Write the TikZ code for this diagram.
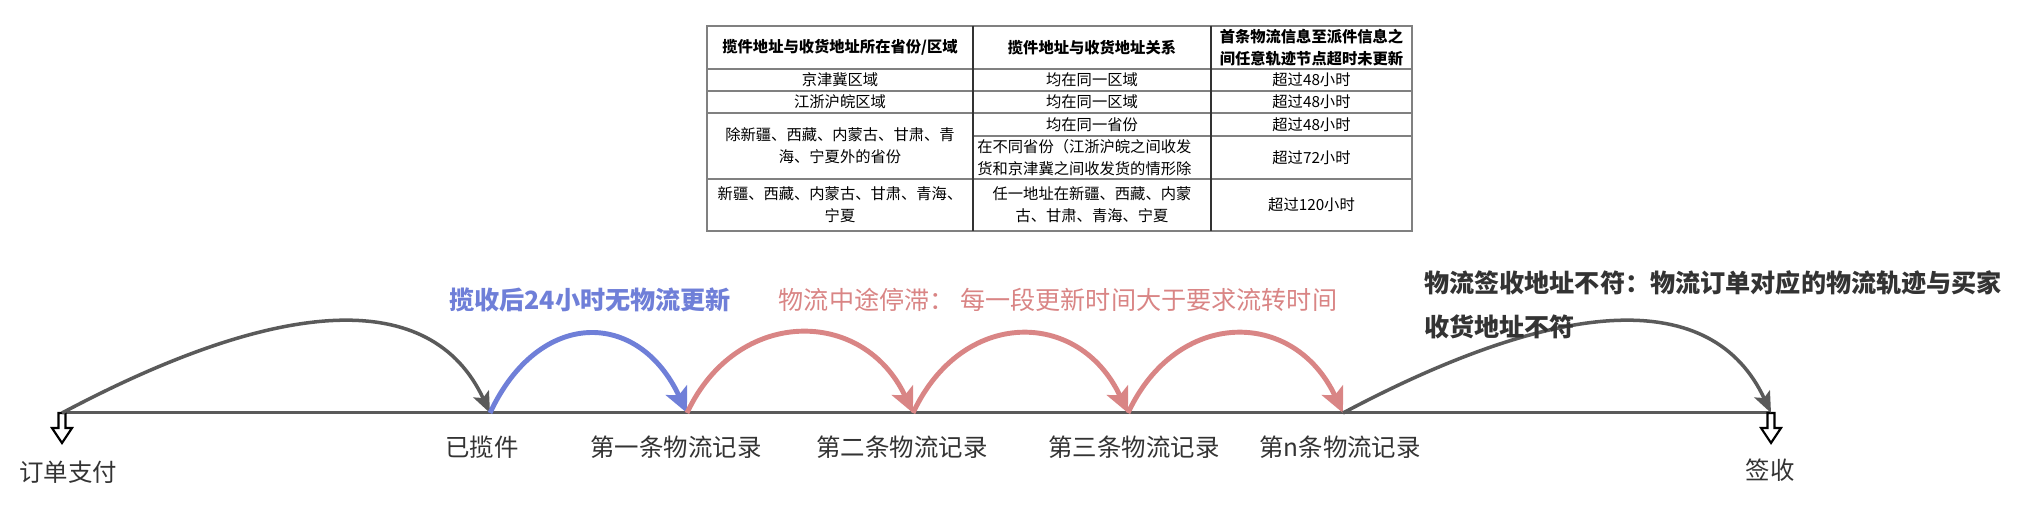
\documentclass[tikz,border=0pt]{standalone}
\usepackage{fontspec}
\setmainfont{Noto Sans CJK SC}
\usetikzlibrary{arrows.meta}
\definecolor{linegray}{HTML}{5A5A5A}
\definecolor{arcblue}{HTML}{6F7FD8}
\definecolor{arcred}{HTML}{D98585}
\definecolor{textdark}{HTML}{333333}
\tikzset{
	timeline/.style = {line width=1.7pt, draw=linegray},
	jump/.style = {line width=2pt, draw=linegray, -{Stealth[length=0.42cm,width=0.34cm,inset=0.09cm]}},
	bluejump/.style = {line width=2.8pt, draw=arcblue, -{Stealth[length=0.5cm,width=0.46cm,inset=0.11cm]}},
	redjump/.style = {bluejump, draw=arcred},
	hollow/.style = {line width=1.2pt, draw=black, fill=white},
	milestone/.style = {font=\fontsize{13.9pt}{16pt}\selectfont, text=textdark},
	note/.style = {font=\fontsize{14.3pt}{25pt}\selectfont\bfseries, align=left},
	rule/.style = {line width=0.7pt, draw=black!50},
	cell/.style = {font=\fontsize{8.7pt}{12.5pt}\selectfont, align=center, inner sep=0pt},
	headcell/.style = {cell, font=\fontsize{8.7pt}{12.5pt}\selectfont\bfseries}
}
\begin{document}
\begin{tikzpicture}[x=0.02cm, y=0.02cm]
	\useasboundingbox (0,0) rectangle (2022,516);

	\draw[rule] (707,490) rectangle (1412,285);
	\draw[rule] (707,447) -- (1412,447);
	\draw[rule] (707,425) -- (1412,425);
	\draw[rule] (707,403) -- (1412,403);
	\draw[rule] (973,380) -- (1412,380);
	\draw[rule] (707,337) -- (1412,337);
	\draw[rule, draw=black!80] (973,490) -- (973,285);
	\draw[rule, draw=black!80] (1211,490) -- (1211,285);

	\node[headcell] (h1) at (840,468.5) {揽件地址与收货地址所在省份/区域};
	\node[headcell] (h2) at (1092,468.5) {揽件地址与收货地址关系};
	\node[headcell] (h3) at (1311.5,468.5) {首条物流信息至派件信息之\\间任意轨迹节点超时未更新};
	\node[cell] (a1) at (840,436) {京津冀区域};
	\node[cell] (b1) at (1092,436) {均在同一区域};
	\node[cell] (c1) at (1311.5,436) {超过48小时};
	\node[cell] (a2) at (840,414) {江浙沪皖区域};
	\node[cell] (b2) at (1092,414) {均在同一区域};
	\node[cell] (c2) at (1311.5,414) {超过48小时};
	\node[cell] (a3) at (840,370) {除新疆、西藏、内蒙古、甘肃、青\\海、宁夏外的省份};
	\node[cell] (b3) at (1092,391.5) {均在同一省份};
	\node[cell] (c3) at (1311.5,391.5) {超过48小时};
	\node[cell, align=left, anchor=west] (b4) at (977,358.5) {在不同省份（江浙沪皖之间收发\\货和京津冀之间收发货的情形除};
	\node[cell] (c4) at (1311.5,358.5) {超过72小时};
	\node[cell] (a5) at (840,311) {新疆、西藏、内蒙古、甘肃、青海、\\宁夏};
	\node[cell] (b5) at (1092,311) {任一地址在新疆、西藏、内蒙\\古、甘肃、青海、宁夏};
	\node[cell] (c5) at (1311.5,311) {超过120小时};

	\coordinate (p0) at (62,103);
	\coordinate (p1) at (490,103);
	\coordinate (p2) at (687,103);
	\coordinate (p3) at (913,103);
	\coordinate (p4) at (1128,103);
	\coordinate (p5) at (1343,103);
	\coordinate (p6) at (1771,103);

	\draw[timeline] (p0) -- (p6);
	\foreach \p in {p0,p6}
		\draw[hollow] (\p) ++(-3.5,0) -- ++(0,-15) -- ++(-6.5,0) -- ++(10,-15) -- ++(10,15) -- ++(-6.5,0) -- ++(0,15) -- cycle;

	\draw[jump] (p0) to [out=28,in=115,out looseness=1.49,in looseness=0.83] (p1);
	\draw[bluejump] (p1) to [out=65,in=115,looseness=1.5] (p2);
	\draw[redjump] (p2) to [out=65,in=115,looseness=1.33] (p3);
	\draw[redjump] (p3) to [out=65,in=115,looseness=1.38] (p4);
	\draw[redjump] (p4) to [out=65,in=115,looseness=1.38] (p5);
	\draw[jump] (p5) to [out=28,in=115,out looseness=1.49,in looseness=0.83] (p6);

	\node[milestone] (pay) at (68,44) {订单支付};
	\node[milestone] (pick) at (482,69) {已揽件};
	\node[milestone] (rec1) at (676,69) {第一条物流记录};
	\node[milestone] (rec2) at (902,69) {第二条物流记录};
	\node[milestone] (rec3) at (1134,69) {第三条物流记录};
	\node[milestone] (recn) at (1340,69) {第n条物流记录};
	\node[milestone] (sign) at (1770,46) {签收};

	\node[note, text=arcblue] (late) at (590,216) {揽收后24小时无物流更新};
	\node[note, text=arcred, font=\fontsize{14.3pt}{25pt}\selectfont] (stall) at (1058,216) {物流中途停滞： 每一段更新时间大于要求流转时间};
	\node[note, text=textdark, anchor=west] (wrong) at (1418,211) {物流签收地址不符：物流订单对应的物流轨迹与买家\\收货地址不符};
\end{tikzpicture}
\end{document}
